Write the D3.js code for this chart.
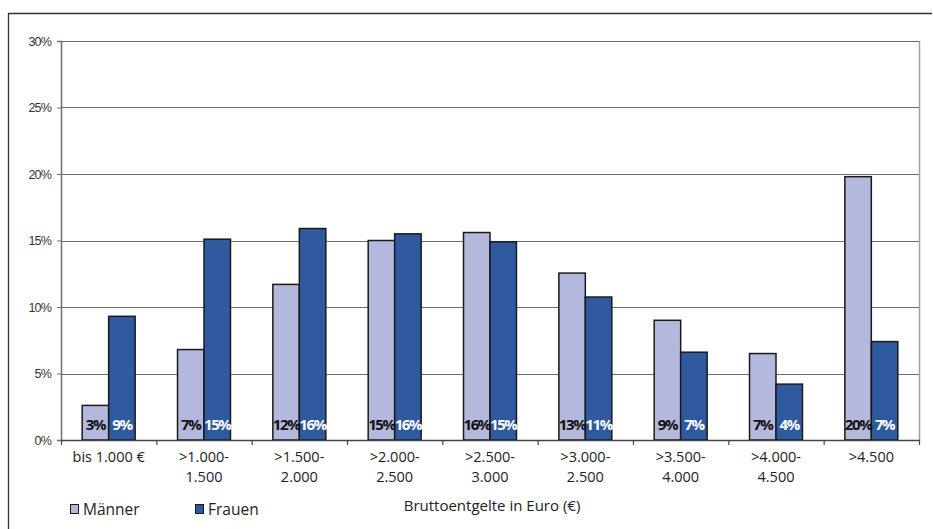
<!DOCTYPE html>
<html>
<head>
<meta charset="utf-8">
<script src="https://cdn.jsdelivr.net/npm/d3@7"></script>
<style>
  html, body { margin: 0; padding: 0; background: #fff; }
  svg { display: block; font-family: "Open Sans", "DejaVu Sans", sans-serif; }
</style>
</head>
<body>
<svg id="chart" width="933" height="529"></svg>
<script>
// Income bands (gross monthly pay)
const categories = [
  ["bis 1.000 €"],
  [">1.000-", "1.500"],
  [">1.500-", "2.000"],
  [">2.000-", "2.500"],
  [">2.500-", "3.000"],
  [">3.000-", "2.500"],
  [">3.500-", "4.000"],
  [">4.000-", "4.500"],
  [">4.500"]
];
const seriesNames = ["Männer", "Frauen"];
const maenner = [2.6, 6.8, 11.7, 15.0, 15.6, 12.55, 9.0, 6.5, 19.8];
const frauen  = [9.3, 15.1, 15.9, 15.5, 14.9, 10.75, 6.6, 4.2, 7.4];
const yTicks  = [0, 5, 10, 15, 20, 25, 30];
const colors  = ["#b3b8dc", "#2f5aa0"];
const labelColors = ["#111", "#fff"];

const svg = d3.select("#chart");
const W = 933, H = 529;
const m = { left: 61, top: 41, right: 919, bottom: 440 };

// outer frame (left and top edges)
svg.append("path")
  .attr("d", `M8.5,${H} V13.5 H932`)
  .attr("fill", "none").attr("stroke", "#333").attr("stroke-width", 1.3);

const x = d3.scaleBand().domain(d3.range(categories.length)).range([m.left, m.right]).paddingInner(0).paddingOuter(0);
const inner = d3.scaleBand().domain([0, 1]).range([0, x.bandwidth()]).paddingInner(0).paddingOuter(0.8);
const y = d3.scaleLinear().domain([0, 30]).range([m.bottom, m.top]);

// horizontal gridlines
svg.append("g").selectAll("line").data(yTicks.filter(d => d > 0)).join("line")
  .attr("x1", m.left).attr("x2", m.right)
  .attr("y1", d => Math.round(y(d)) + 0.5).attr("y2", d => Math.round(y(d)) + 0.5)
  .attr("stroke", "#6e6e6e").attr("stroke-width", 1);

// right border of the plot
svg.append("line")
  .attr("x1", m.right + 0.5).attr("x2", m.right + 0.5)
  .attr("y1", m.top).attr("y2", m.bottom)
  .attr("stroke", "#a0a0a0").attr("stroke-width", 1.5);

// y axis
const yAxis = svg.append("g").attr("transform", `translate(${m.left},0)`)
  .call(d3.axisLeft(y).tickValues(yTicks).tickFormat(d => d + "%").tickSizeOuter(0).tickSize(4).tickPadding(6));
yAxis.select(".domain").attr("stroke", "#6e6e6e").attr("stroke-width", 1.5);
yAxis.selectAll(".tick line").attr("stroke", "#6e6e6e");
yAxis.selectAll(".tick text").attr("fill", "#333").attr("font-size", 12.5).attr("letter-spacing", -0.8);

// bars
const data = categories.map((c, i) => [maenner[i], frauen[i]]);
const groups = svg.append("g").selectAll("g").data(data).join("g")
  .attr("transform", (d, i) => `translate(${x(i)},0)`);

groups.selectAll("rect").data(d => d).join("rect")
  .attr("x", (d, j) => inner(j))
  .attr("y", d => y(d))
  .attr("width", inner.bandwidth())
  .attr("height", d => y(0) - y(d))
  .attr("fill", (d, j) => colors[j])
  .attr("stroke", "#1a1a1a").attr("stroke-width", 1.5);

groups.selectAll("text").data(d => d).join("text")
  .attr("x", (d, j) => inner(j) + inner.bandwidth() / 2)
  .attr("y", y(0) - 10)
  .attr("text-anchor", "middle")
  .attr("font-size", 15).attr("font-weight", "bold").attr("letter-spacing", -1.4)
  .attr("fill", (d, j) => labelColors[j])
  .text(d => d3.format(".0f")(d) + "%");

// x axis
const xAxis = svg.append("g").attr("transform", `translate(0,${m.bottom})`);
xAxis.append("line").attr("x1", m.left).attr("x2", m.right + 1)
  .attr("y1", 0.5).attr("y2", 0.5).attr("stroke", "#444").attr("stroke-width", 1.5);
xAxis.selectAll(".tk").data(d3.range(categories.length + 1)).join("line")
  .attr("x1", i => (i < categories.length ? x(i) : m.right) + 0.5)
  .attr("x2", i => (i < categories.length ? x(i) : m.right) + 0.5)
  .attr("y1", 0).attr("y2", 5).attr("stroke", "#444").attr("stroke-width", 1.2);

// category labels, one text per line
const xl = xAxis.selectAll(".lbl").data(categories).join("g")
  .attr("transform", (d, i) => `translate(${x(i) + x.bandwidth() / 2},22)`);
xl.selectAll("text").data(d => d).join("text")
  .attr("text-anchor", "middle")
  .attr("font-size", 14.5).attr("fill", "#222")
  .attr("y", (d, k) => k * 20)
  .text(d => d);

// axis title
svg.append("text").attr("x", 492).attr("y", 511).attr("text-anchor", "middle")
  .attr("font-size", 15).attr("fill", "#222").text("Bruttoentgelte in Euro (€)");

// legend
const legX = [70, 195];
const leg = svg.append("g").selectAll("g").data(seriesNames).join("g")
  .attr("transform", (d, i) => `translate(${legX[i]},504)`);
leg.append("rect").attr("x", 0.5).attr("y", 0.5).attr("width", 8).attr("height", 9)
  .attr("fill", (d, i) => colors[i]).attr("stroke", "#1a1a1a").attr("stroke-width", 1);
leg.append("text").attr("x", 13).attr("y", 11).attr("font-size", 15.5).attr("fill", "#222").text(d => d);
</script>
</body>
</html>
